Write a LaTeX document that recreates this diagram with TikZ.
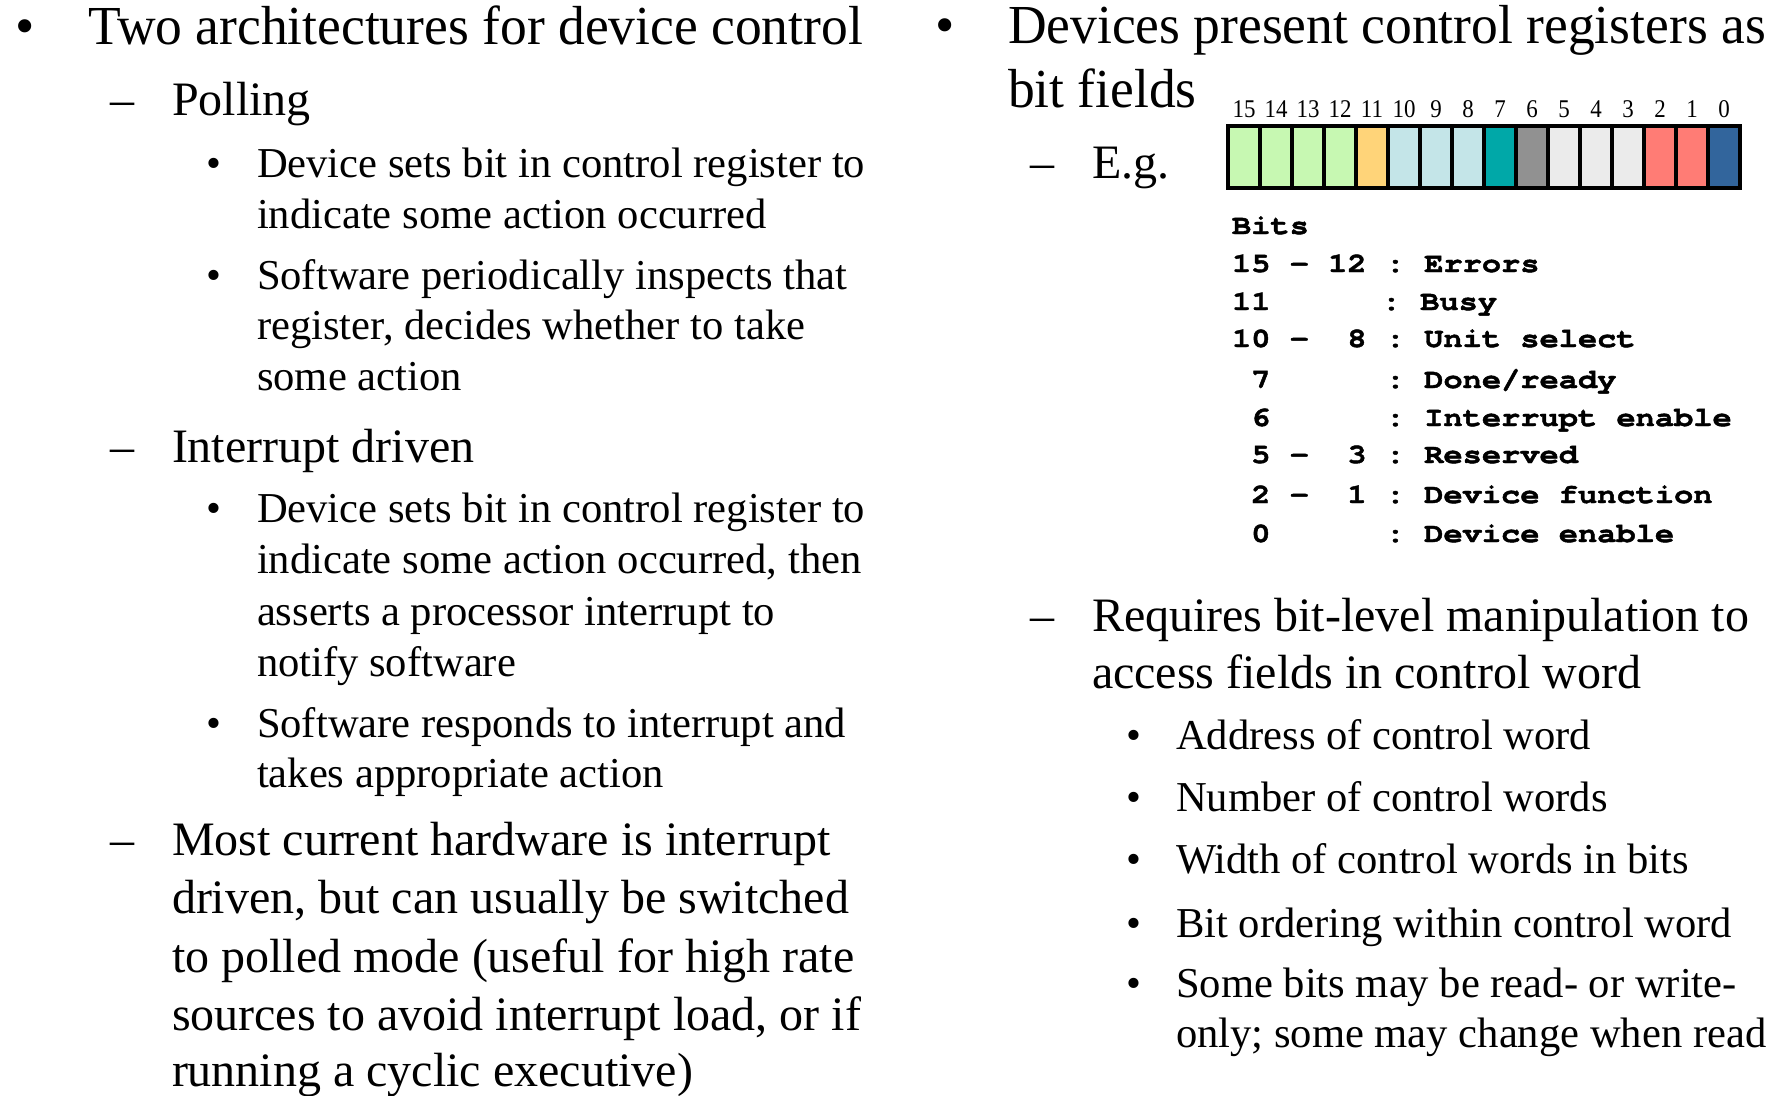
\documentclass[tikz,border=0pt]{standalone}
\usepackage{fontspec}
\setmainfont{Liberation Serif}
\newfontfamily\Lone{Liberation Serif}[FakeStretch=0.973]
\newfontfamily\numfont{Liberation Serif}[FakeStretch=0.9]
\newfontfamily\legfont{texgyrecursor-bold}[Extension=.otf,FakeStretch=1.165,FakeBold=1.6]
\definecolor{cg}{RGB}{199,248,178}
\definecolor{co}{RGB}{255,212,121}
\definecolor{cb}{RGB}{196,229,232}
\definecolor{ct}{RGB}{0,168,168}
\definecolor{cgr}{RGB}{145,145,145}
\definecolor{cl}{RGB}{235,235,235}
\definecolor{cs}{RGB}{255,124,117}
\definecolor{cn}{RGB}{50,101,156}
\tikzset{
  base/.style={anchor=base west, inner sep=0pt, outer sep=0pt},
  t1/.style={base, font=\Lone\fontsize{55}{60}\selectfont},
  t2/.style={base, font=\fontsize{48}{58}\selectfont},
  t3/.style={base, font=\fontsize{42.6}{51}\selectfont},
  b1/.style={anchor=base, inner sep=0pt, font=\fontsize{55}{60}\selectfont},
  d2/.style={anchor=base, inner sep=0pt, font=\fontsize{48}{58}\selectfont},
  b3/.style={anchor=base, inner sep=0pt, font=\fontsize{42.6}{51}\selectfont},
  numlab/.style={anchor=base, inner sep=0pt, font=\numfont\fontsize{25.5}{28}\selectfont},
  leg/.style={base, font=\legfont\fontsize{27.5}{30}\selectfont},
  cell/.style={draw=black, line width=4.2pt},
}
\begin{document}
\begin{tikzpicture}[x=1pt,y=-1pt]
\useasboundingbox[fill=white] (0,0) rectangle (1782,1095);

% ---------------- left column ----------------
\node[b1] (lb1) at (25,44) {•};
\node[t1] (l1) at (88,44) {Two architectures for device control};

\node[d2] (ld1) at (122.5,115) {–};
\node[t2] (l2) at (172,115) {Polling};

\node[b3] (lb2) at (214,177) {•};
\node[t3] (l3a) at (257,177) {Device sets bit in control register to};
\node[t3] (l3b) at (257,228) {indicate some action occurred};

\node[b3] (lb3) at (214,289) {•};
\node[t3] (l4a) at (257,289) {Software periodically inspects that};
\node[t3] (l4b) at (257,339) {register, decides whether to take};
\node[t3] (l4c) at (257,390) {some action};

\node[d2] (ld2) at (122.5,462) {–};
\node[t2] (l5) at (172,462) {Interrupt driven};

\node[b3] (lb4) at (214,522) {•};
\node[t3] (l6a) at (257,522) {Device sets bit in control register to};
\node[t3] (l6b) at (257,573) {indicate some action occurred, then};
\node[t3] (l6c) at (257,625) {asserts a processor interrupt to};
\node[t3] (l6d) at (257,676) {notify software};

\node[b3] (lb5) at (214,737) {•};
\node[t3] (l7a) at (257,737) {Software responds to interrupt and};
\node[t3] (l7b) at (257,787) {takes appropriate action};

\node[d2] (ld3) at (122.5,855) {–};
\node[t2] (l8a) at (172,855) {Most current hardware is interrupt};
\node[t2] (l8b) at (172,913) {driven, but can usually be switched};
\node[t2] (l8c) at (172,972) {to polled mode (useful for high rate};
\node[t2] (l8d) at (172,1030) {sources to avoid interrupt load, or if};
\node[t2] (l8e) at (172,1086) {running a cyclic executive)};

% ---------------- right column ----------------
\node[b1] (rb1) at (945,43) {•};
\node[t1] (r1a) at (1008,43) {Devices present control registers as};
\node[t1] (r1b) at (1008,107) {bit fields};

\node[d2] (rd1) at (1042.5,178) {–};
\node[t2] (r2) at (1092,178) {E.g.};

% register
\foreach \c [count=\i from 0] in {cg,cg,cg,cg,co,cb,cb,cb,ct,cgr,cl,cl,cl,cs,cs,cn} {
  \draw[cell, fill=\c] (1228+32*\i,126) rectangle ++(32,62.3);
  \node[numlab] (n\i) at (1244+32*\i,117) {\number\numexpr15-\i\relax};
}

% legend
\node[leg] (g0) at (1232,234) {Bits};
\node[leg] (g1) at (1232,272) {15\ -\ 12\ :\ Errors};
\node[leg] (g2) at (1232,310) {11\ \ \ \ \ \ \kern-4pt:\ Busy};
\node[leg] (g3) at (1232,347) {10\ -\ \ 8\ :\ Unit\ select};
\node[leg] (g4) at (1232,388) {\ 7\ \ \ \ \ \ :\ Done/ready};
\node[leg] (g5) at (1232,426) {\ 6\ \ \ \ \ \ :\ Interrupt\ enable};
\node[leg] (g6) at (1232,463) {\ 5\ -\ \ 3\ :\ Reserved};
\node[leg] (g7) at (1232,503) {\ 2\ -\ \ 1\ :\ Device\ function};
\node[leg] (g8) at (1232,542) {\ 0\ \ \ \ \ \ :\ Device\ enable};

\node[d2] (rd2) at (1042.5,631) {–};
\node[t2] (r3a) at (1092,631) {Requires bit-level manipulation to};
\node[t2] (r3b) at (1092,688) {access fields in control word};

\node[b3] (rb2) at (1134,749) {•};
\node[t3] (r4) at (1176,749) {Address of control word};
\node[b3] (rb3) at (1134,811) {•};
\node[t3] (r5) at (1176,811) {Number of control words};
\node[b3] (rb4) at (1134,873) {•};
\node[t3] (r6) at (1176,873) {Width of control words in bits};
\node[b3] (rb5) at (1134,937) {•};
\node[t3] (r7) at (1176,937) {Bit ordering within control word};
\node[b3] (rb6) at (1134,997) {•};
\node[t3] (r8a) at (1176,997) {Some bits may be read- or write-};
\node[t3] (r8b) at (1176,1047) {only; some may change when read};
\end{tikzpicture}
\end{document}
